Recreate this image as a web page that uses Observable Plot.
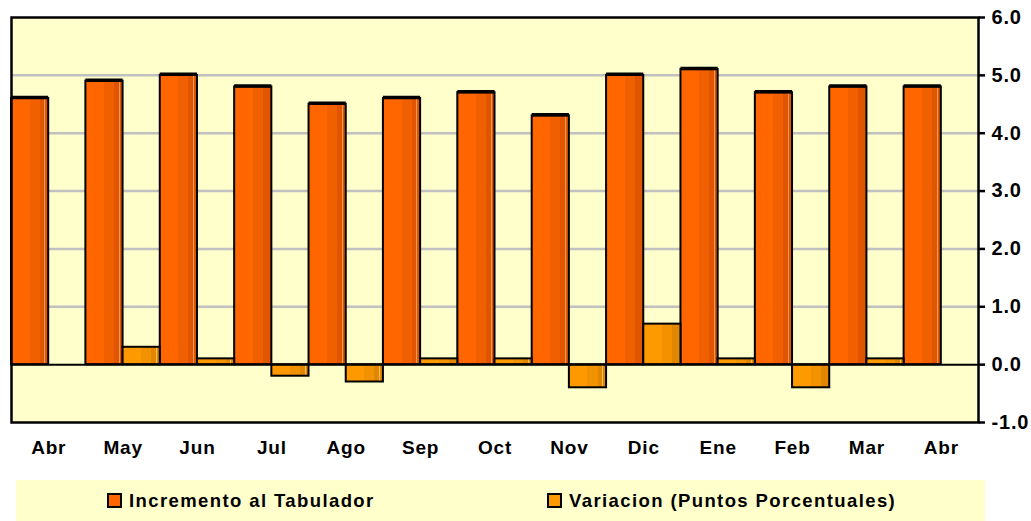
<!DOCTYPE html>
<html>
<head>
<meta charset="utf-8">
<script src="https://cdn.jsdelivr.net/npm/d3@7"></script>
<script src="https://cdn.jsdelivr.net/npm/@observablehq/plot@0.6"></script>
<style>
  body { margin: 0; background: #fff; font-family: "Liberation Sans", Arial, sans-serif; }
  #wrap { position: relative; width: 1031px; height: 521px; }
  #chart text { letter-spacing: 0.8px; }
  #legend { position: absolute; left: 16px; top: 480px; width: 969px; height: 41px; background: #FFFFCC; }
  .item { position: absolute; top: 0; height: 41px; display: flex; align-items: center; font-weight: bold; font-size: 18.5px; letter-spacing: 1.4px; color: #000; }
  .sw { width: 11px; height: 11px; border: 2px solid #000; margin-right: 7px; }
</style>
</head>
<body>
<div id="wrap">
  <div id="chart"></div>
  <div id="legend">
    <div class="item" style="left:91px"><div class="sw" style="background:#FF6600"></div>Incremento al Tabulador</div>
    <div class="item" style="left:531px"><div class="sw" style="background:#FF9900"></div>Variacion (Puntos Porcentuales)</div>
  </div>
</div>
<script>
const months = ["Abr","May","Jun","Jul","Ago","Sep","Oct","Nov","Dic","Ene","Feb","Mar","Abr"];
const incremento = [4.6, 4.9, 5.0, 4.8, 4.5, 4.6, 4.7, 4.3, 5.0, 5.1, 4.7, 4.8, 4.8];
const variacion = [0.0, 0.3, 0.1, -0.2, -0.3, 0.1, 0.1, -0.4, 0.7, 0.1, -0.4, 0.1, 0.0];
const yTicks = [-1, 0, 1, 2, 3, 4, 5, 6];
const gridValues = [1, 2, 3, 4, 5];

const incData = incremento.map((v, i) => ({x1: i, x2: i + 0.5, v}));
const varData = variacion.map((v, i) => ({x1: i + 0.5, x2: i + 1, v}));

const chart = Plot.plot({
  width: 1031,
  height: 470,
  marginTop: 17,
  marginBottom: 48,
  marginLeft: 11,
  marginRight: 53,
  style: {fontFamily: "'Liberation Sans', Arial, sans-serif", fontWeight: "bold", color: "#000", background: "transparent"},
  x: {domain: [0, months.length], label: null},
  y: {domain: [-1, 6], label: null},
  marks: [
    Plot.frame({fill: "#FFFFCC", stroke: null}),
    Plot.ruleY(gridValues, {stroke: "#C0C0C0", strokeWidth: 2.5}),
    Plot.rectY(incData, {x1: "x1", x2: "x2", y: "v", fill: "url(#gInc)", stroke: "#000", strokeWidth: 2}),
    Plot.ruleY(incData, {x1: "x1", x2: "x2", y: "v", stroke: "#000", strokeWidth: 3.5, dy: -1}),
    Plot.rectY(varData, {x1: "x1", x2: "x2", y: "v", fill: "url(#gVar)", stroke: "#000", strokeWidth: 2}),
    Plot.ruleY([0], {stroke: "#000", strokeWidth: 2}),
    Plot.frame({stroke: "#000", strokeWidth: 2.5}),
    Plot.axisY({anchor: "right", label: null, ticks: yTicks, tickFormat: d => d.toFixed(1), tickSize: 6, tickPadding: 7, fontSize: 20, fontWeight: "bold", stroke: "#000", strokeWidth: 2.5}),
    Plot.axisX({anchor: "bottom", label: null, ticks: months.map((m, i) => i + 0.5), tickFormat: d => months[Math.floor(d)], tickSize: 0, tickPadding: 18, fontSize: 19, fontWeight: "bold"})
  ]
});

const svg = d3.select(chart);
const defs = svg.insert("defs", ":first-child");
function grad(id, c1, c2, c3, c4) {
  const g = defs.append("linearGradient").attr("id", id).attr("x1", "0").attr("x2", "1").attr("y1", "0").attr("y2", "0");
  [[0, c1], [0.5, c1], [0.5, c2], [0.77, c2], [0.77, c3], [0.9, c3], [0.9, c4], [0.92, c4], [0.92, c3], [1, c3]]
    .forEach(([o, c]) => g.append("stop").attr("offset", o).attr("stop-color", c));
}
grad("gInc", "#FF6600", "#F06000", "#E05500", "#FF9955");
grad("gVar", "#FF9900", "#F29200", "#E08600", "#FFC060");

document.getElementById("chart").appendChild(chart);
</script>
</body>
</html>
